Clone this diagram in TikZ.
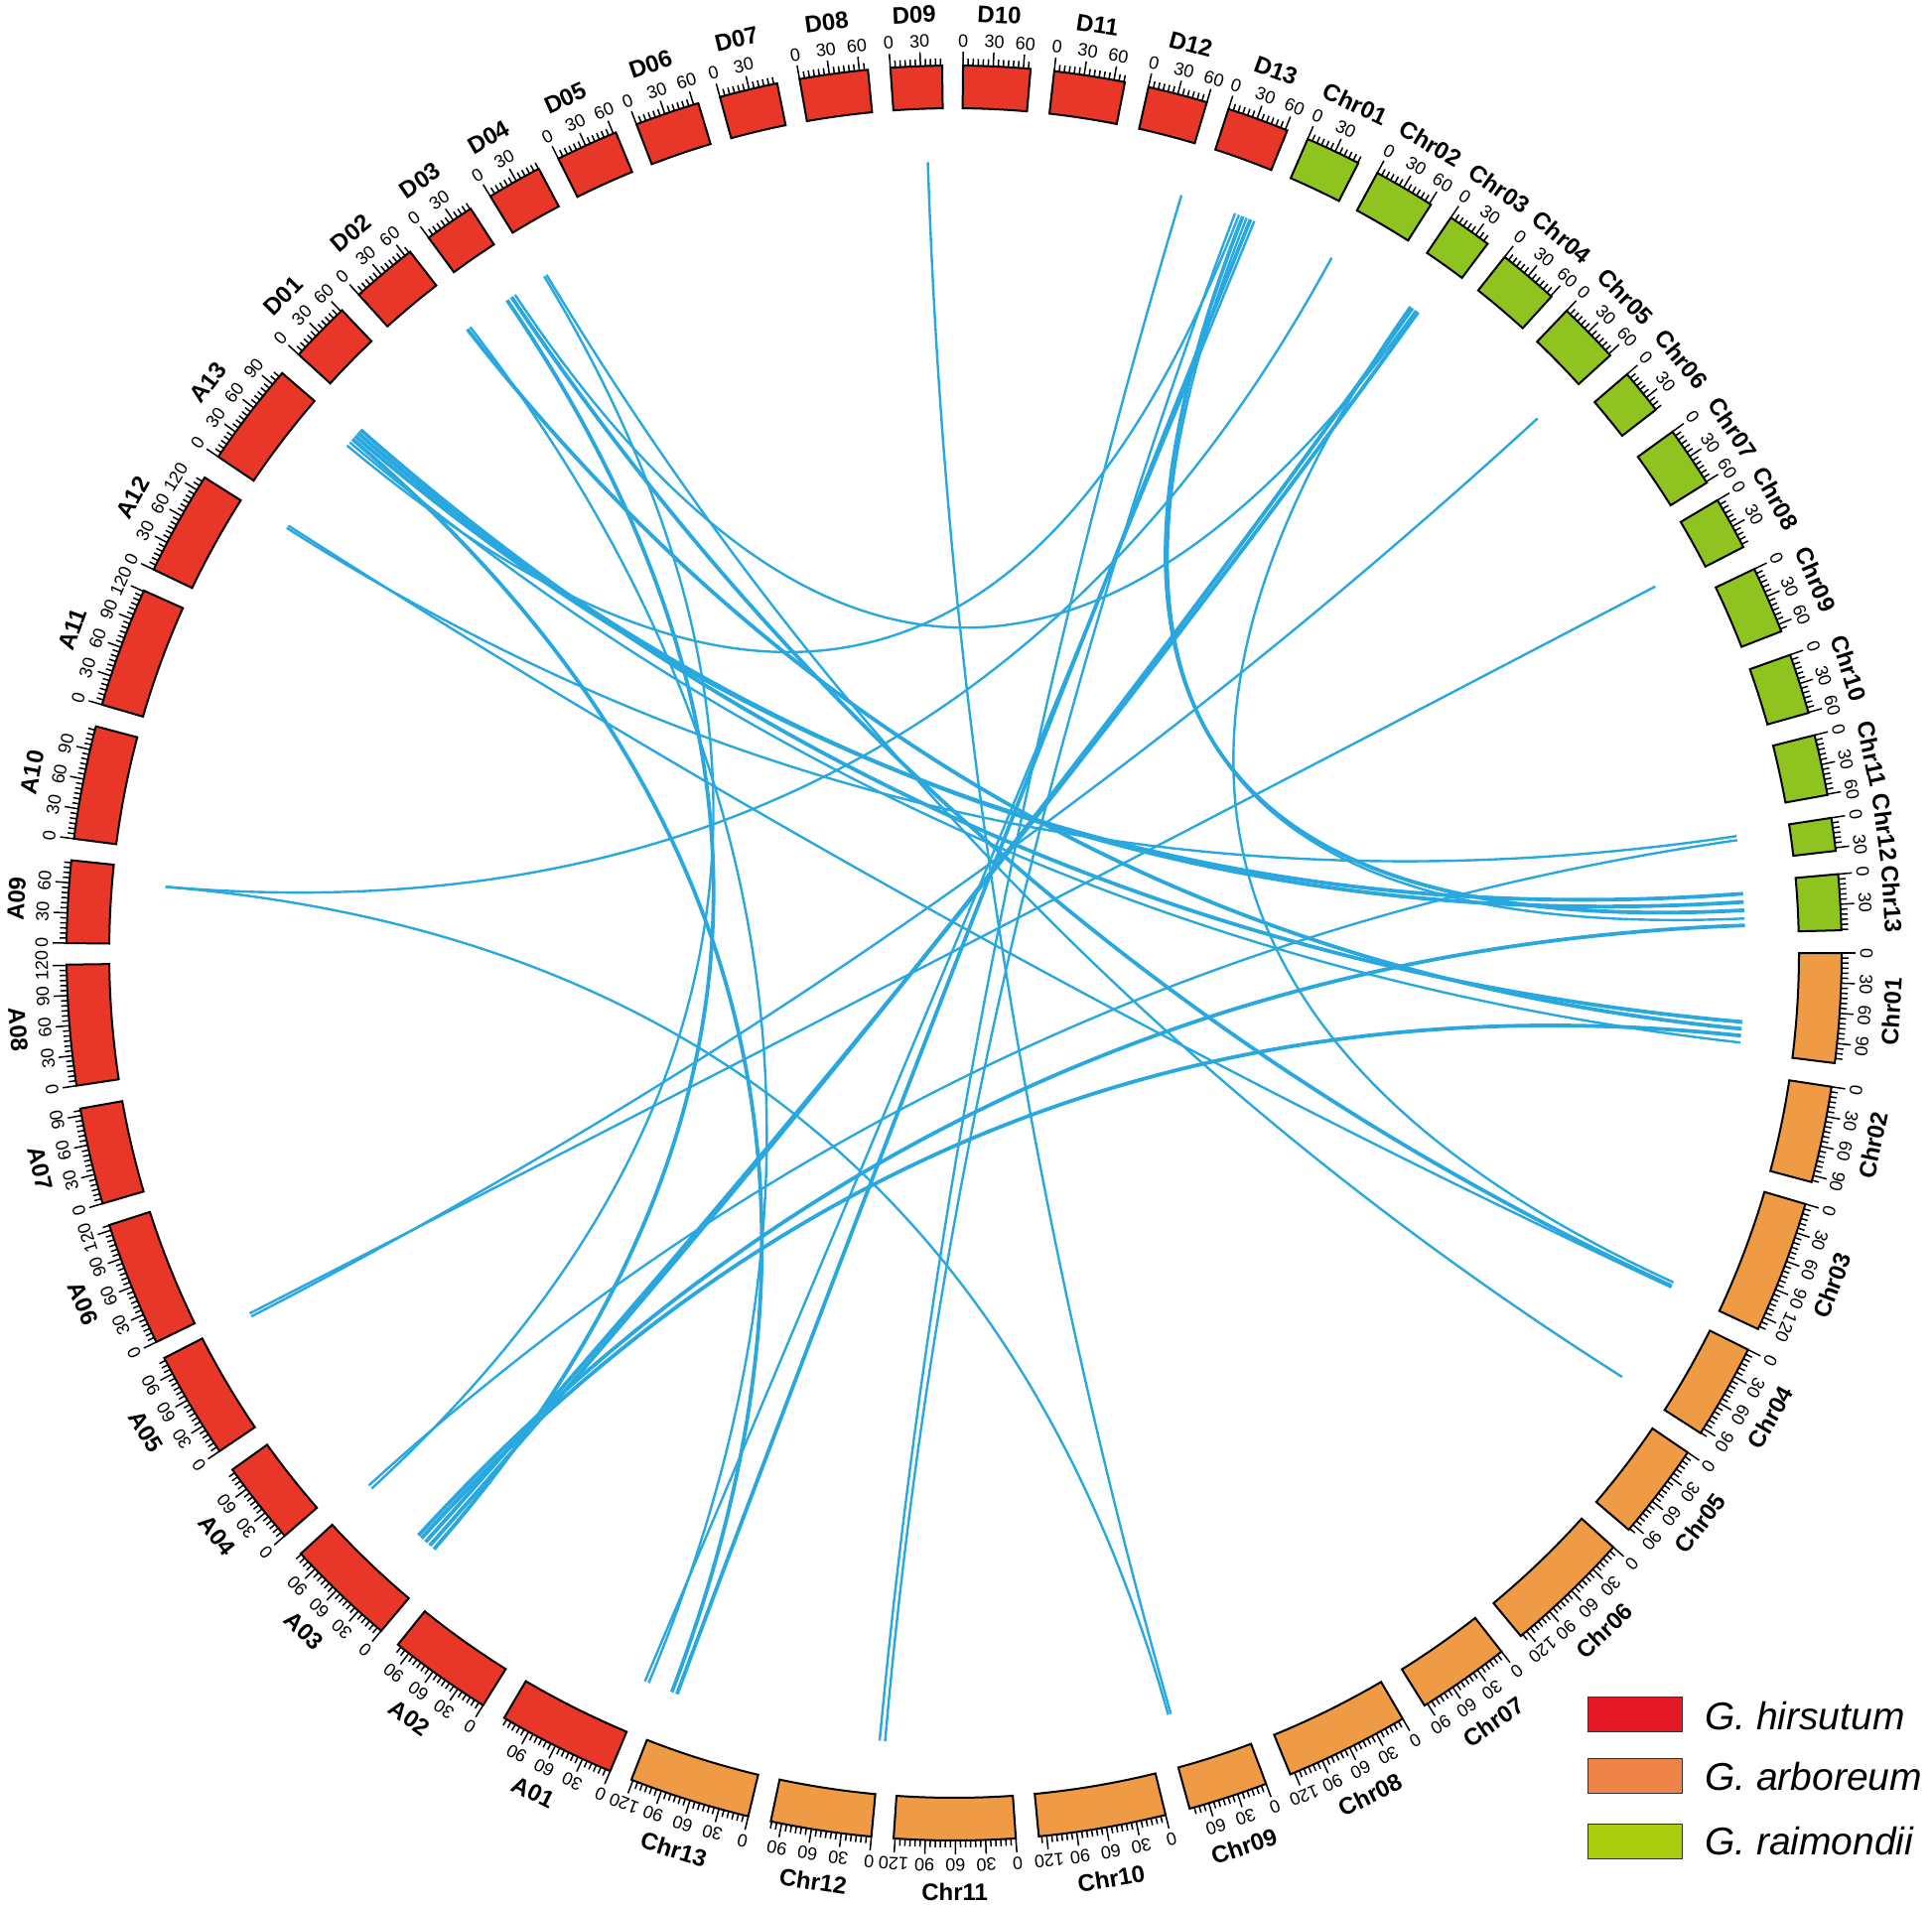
\documentclass[tikz,border=0pt]{standalone}
\usepackage{fontspec}
\setmainfont{Liberation Sans}
\definecolor{hirs}{RGB}{232,54,41}
\definecolor{arbo}{RGB}{239,155,69}
\definecolor{raim}{RGB}{143,195,32}
\definecolor{lnkc}{RGB}{41,168,224}
\definecolor{leghirs}{RGB}{228,24,36}
\definecolor{legarbo}{RGB}{239,132,74}
\definecolor{legraim}{RGB}{170,205,14}
\tikzset{
  chr/.style={draw=black,line width=1pt},
  tickline/.style={line width=0.75pt},
  numlab/.style={inner sep=0pt,font=\fontsize{9}{10}\selectfont},
  namelab/.style={inner sep=0pt,font=\fontsize{12}{13}\selectfont\bfseries},
  lnk/.style={draw=lnkc,line width=1.2pt},
  lnkT/.style={draw=lnkc,line width=1.9pt},
  legbox/.style={draw=black!80,line width=0.6pt,minimum width=47.5pt,minimum height=17.5pt,inner sep=0pt},
  legtext/.style={anchor=west,inner sep=0pt,font=\fontsize{19.5}{22}\selectfont\itshape}
}
% #1 start angle, #2 end angle, #3 colour, #4 name, #5 text printed at the 90 tick
\newcommand\chrom[5]{%
  \draw[chr,fill=#3] (#1:851) arc[start angle=#1,end angle=#2,radius=851] -- (#2:894) arc[start angle=#2,end angle=#1,radius=894] -- cycle;
  \pgfmathsetmacro\clen{(#1-(#2))/0.065}
  \foreach \t in {0,5,...,\clen}{%
    \pgfmathsetmacro\ta{#1-\t*0.065}
    \pgfmathsetmacro\tr{\ta-90}
    \pgfmathtruncatemacro\tm{mod(\t,30)}
    \ifnum\tm=0
      \draw[tickline] (\ta:894) -- (\ta:908);
      \pgfmathtruncatemacro\tv{\t}
      \node[numlab,rotate=\tr] at (\ta:919) {\ifnum\tv=90 #5\else\tv\fi};
    \else
      \draw[tickline] (\ta:894) -- (\ta:901);
    \fi
  }
  \pgfmathsetmacro\cm{(#1+(#2))/2}
  \pgfmathsetmacro\rt{sin(\cm)>=0 ? \cm-90 : \cm+90}
  \node[namelab,rotate=\rt] at (\cm:946) {#4};
}
\newcommand\lk[3]{\draw[#3] (#1:797) .. controls (#1:266) and (#2:266) .. (#2:797);}
\begin{document}
\begin{tikzpicture}[x=0.5pt,y=0.5pt]
\useasboundingbox (-961,-958) rectangle (985,960);
% links
\lk{139.2}{4.3}{lnkT}
\lk{138.9}{3.7}{lnkT}
\lk{138.6}{-5.0}{lnkT}
\lk{139.5}{249.1}{lnkT}
\lk{140.1}{68.9}{lnk}
\lk{139.8}{-6.5}{lnk}
\lk{68.6}{3.1}{lnkT}
\lk{68.3}{2.5}{lnk}
\lk{68.0}{249.5}{lnkT}
\lk{67.7}{247.0}{lnk}
\lk{54.6}{228.5}{lnkT}
\lk{54.1}{228.1}{lnkT}
\lk{54.3}{123.7}{lnk}
\lk{124.0}{335.1}{lnkT}
\lk{124.4}{228.9}{lnkT}
\lk{54.8}{335.4}{lnk}
\lk{227.7}{-6.0}{lnkT}
\lk{227.4}{2.0}{lnkT}
\lk{147.5}{8.5}{lnk}
\lk{147.3}{335.0}{lnk}
\lk{73.3}{-95.4}{lnk}
\lk{91.9}{-74.1}{lnk}
\lk{175.2}{-74.3}{lnk}
\lk{175.2}{61.5}{lnk}
\lk{207.35}{42.5}{lnk}
\lk{207.1}{27.6}{lnk}
\lk{222.6}{121.2}{lnk}
\lk{121.0}{-32.4}{lnk}
\lk{222.3}{8.2}{lnk}
\lk{127.96}{-5.5}{lnkT}
\lk{127.7}{247.3}{lnk}
\lk{-95.0}{69.2}{lnk}
% G. hirsutum
\chrom{247.2}{239.54}{hirs}{A01}{90}
\chrom{237.95}{231.2}{hirs}{A02}{90}
\chrom{229.8}{222.6}{hirs}{A03}{90}
\chrom{221.05}{215.6}{hirs}{A04}{90}
\chrom{214.15}{207.15}{hirs}{A05}{90}
\chrom{206.0}{197.85}{hirs}{A06}{90}
\chrom{196.4}{190.1}{hirs}{A07}{90}
\chrom{188.6}{180.75}{hirs}{A08}{90}
\chrom{179.36}{174.0}{hirs}{A09}{90}
\chrom{172.6}{165.2}{hirs}{A10}{90}
\chrom{163.75}{155.9}{hirs}{A11}{90}
\chrom{154.4}{147.6}{hirs}{A12}{120}
\chrom{146.0}{139.2}{hirs}{A13}{90}
\chrom{137.6}{133.6}{hirs}{D01}{90}
\chrom{132.12}{127.8}{hirs}{D02}{90}
\chrom{126.3}{123.0}{hirs}{D03}{90}
\chrom{121.5}{117.9}{hirs}{D04}{90}
\chrom{116.48}{112.4}{hirs}{D05}{90}
\chrom{110.97}{106.75}{hirs}{D06}{90}
\chrom{105.3}{101.5}{hirs}{D07}{90}
\chrom{100.03}{95.57}{hirs}{D08}{90}
\chrom{94.12}{90.77}{hirs}{D09}{90}
\chrom{89.42}{85.05}{hirs}{D10}{90}
\chrom{83.52}{78.9}{hirs}{D11}{90}
\chrom{77.35}{73.45}{hirs}{D12}{90}
\chrom{71.99}{67.95}{hirs}{D13}{90}
% G. raimondii
\chrom{66.52}{62.9}{raim}{Chr01}{90}
\chrom{61.52}{57.5}{raim}{Chr02}{90}
\chrom{55.96}{53.05}{raim}{Chr03}{90}
\chrom{51.66}{47.7}{raim}{Chr04}{90}
\chrom{46.36}{42.33}{raim}{Chr05}{90}
\chrom{40.7}{37.75}{raim}{Chr06}{90}
\chrom{35.97}{32.0}{raim}{Chr07}{90}
\chrom{30.68}{27.22}{raim}{Chr08}{90}
\chrom{25.64}{21.25}{raim}{Chr09}{90}
\chrom{19.63}{15.7}{raim}{Chr10}{90}
\chrom{14.21}{10.26}{raim}{Chr11}{90}
\chrom{8.76}{6.61}{raim}{Chr12}{90}
\chrom{5.1}{1.47}{raim}{Chr13}{90}
% G. arboreum
\chrom{0}{-7.13}{arbo}{Chr01}{90}
\chrom{-8.67}{-14.96}{arbo}{Chr02}{90}
\chrom{-16.43}{-25.07}{arbo}{Chr03}{90}
\chrom{-26.55}{-32.75}{arbo}{Chr04}{90}
\chrom{-34.25}{-40.53}{arbo}{Chr05}{90}
\chrom{-42.03}{-50.32}{arbo}{Chr06}{90}
\chrom{-51.92}{-57.99}{arbo}{Chr07}{90}
\chrom{-59.64}{-67.74}{arbo}{Chr08}{90}
\chrom{-69.42}{-74.61}{arbo}{Chr09}{90}
\chrom{-76.21}{-84.52}{arbo}{Chr10}{90}
\chrom{-86.01}{-93.91}{arbo}{Chr11}{90}
\chrom{-95.35}{-101.92}{arbo}{Chr12}{90}
\chrom{-103.41}{-111.32}{arbo}{Chr13}{90}
% legend
\node[legbox,fill=leghirs] (lg1) at (685.8,-766.8) {};
\node[legbox,fill=legarbo] (lg2) at (685.8,-828.8) {};
\node[legbox,fill=legraim] (lg3) at (685.8,-895.2) {};
\node[legtext] (lt1) at (755.7,-768.8) {G. hirsutum};
\node[legtext] (lt2) at (755.7,-830) {G. arboreum};
\node[legtext] (lt3) at (755.7,-895) {G. raimondii};
\end{tikzpicture}
\end{document}
